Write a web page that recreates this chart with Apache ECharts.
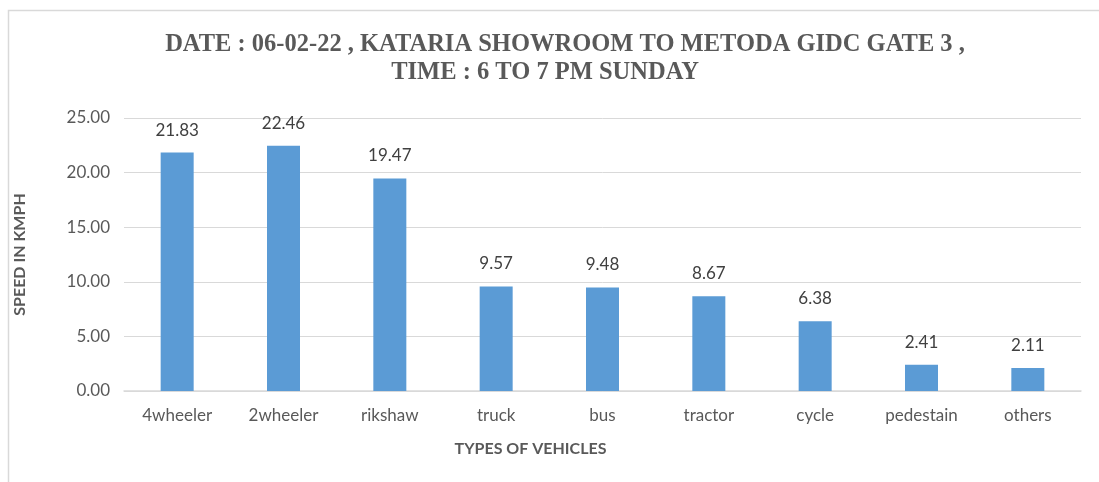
<!DOCTYPE html>
<html>
<head>
<meta charset="utf-8">
<script src="https://cdn.jsdelivr.net/npm/echarts@6/dist/echarts.min.js"></script>
<style>
html,body{margin:0;padding:0;background:#fff;}
#main{width:1099px;height:482px;}
</style>
</head>
<body>
<div id="main"></div>
<script>
// vehicle types and avg speed
var vehicles = ['4wheeler', '2wheeler', 'rikshaw', 'truck', 'bus', 'tractor', 'cycle', 'pedestain', 'others'];
var speeds = [21.83, 22.46, 19.47, 9.57, 9.48, 8.67, 6.38, 2.41, 2.11];
var titleLines = ['DATE : 06-02-22 , KATARIA SHOWROOM TO METODA GIDC GATE 3 ,', 'TIME : 6 TO 7 PM SUNDAY'];

var txtFont = 'Lato';
var grey = '#595959';

var myChart = echarts.init(document.getElementById('main'));
var titleStyle = {fontFamily: 'Liberation Serif', fontWeight: 'bold', fontSize: 24.5, fill: grey};
var option = {
    backgroundColor: '#fff',
    animation: false,
    graphic: [{
        type: 'rect',
        shape: {x: 8.5, y: 10.5, width: 1100, height: 480},
        style: {fill: 'none', stroke: '#d9d9d9', lineWidth: 1.5},
        silent: true
    }, {
        type: 'text', x: 565, y: 45,
        style: Object.assign({text: titleLines[0], textAlign: 'center', textVerticalAlign: 'middle'}, titleStyle)
    }, {
        type: 'text', x: 545, y: 73,
        style: Object.assign({text: titleLines[1], textAlign: 'center', textVerticalAlign: 'middle'}, titleStyle)
    }],
    grid: {left: 124, right: 18, top: 118, bottom: 91},
    xAxis: {
        type: 'category',
        data: vehicles,
        name: 'TYPES OF VEHICLES',
        nameLocation: 'middle',
        nameGap: 50,
        nameTextStyle: {fontFamily: txtFont, fontWeight: 'bold', fontSize: 16, color: grey, padding: [0, 144, 0, 0]},
        axisLine: {lineStyle: {color: '#d9d9d9', width: 1.5}},
        axisTick: {show: false},
        axisLabel: {fontFamily: txtFont, fontSize: 17, color: grey, margin: 16}
    },
    yAxis: {
        type: 'value',
        min: 0,
        max: 25,
        interval: 5,
        name: 'SPEED IN KMPH',
        nameLocation: 'middle',
        nameGap: 96,
        nameTextStyle: {fontFamily: txtFont, fontWeight: 'bold', fontSize: 16, color: grey},
        axisLine: {show: false},
        axisTick: {show: false},
        splitLine: {lineStyle: {color: '#d9d9d9'}},
        axisLabel: {
            fontFamily: txtFont, fontSize: 17, color: grey, margin: 14,
            formatter: function (v) { return v.toFixed(2); }
        }
    },
    series: [{
        type: 'bar',
        data: speeds,
        barWidth: 33,
        itemStyle: {color: '#5b9bd5'},
        label: {
            show: true,
            position: 'top',
            distance: 14,
            fontFamily: txtFont,
            fontSize: 17,
            color: '#404040',
            formatter: function (p) { return p.value.toFixed(2); }
        }
    }]
};
myChart.setOption(option);
</script>
</body>
</html>
